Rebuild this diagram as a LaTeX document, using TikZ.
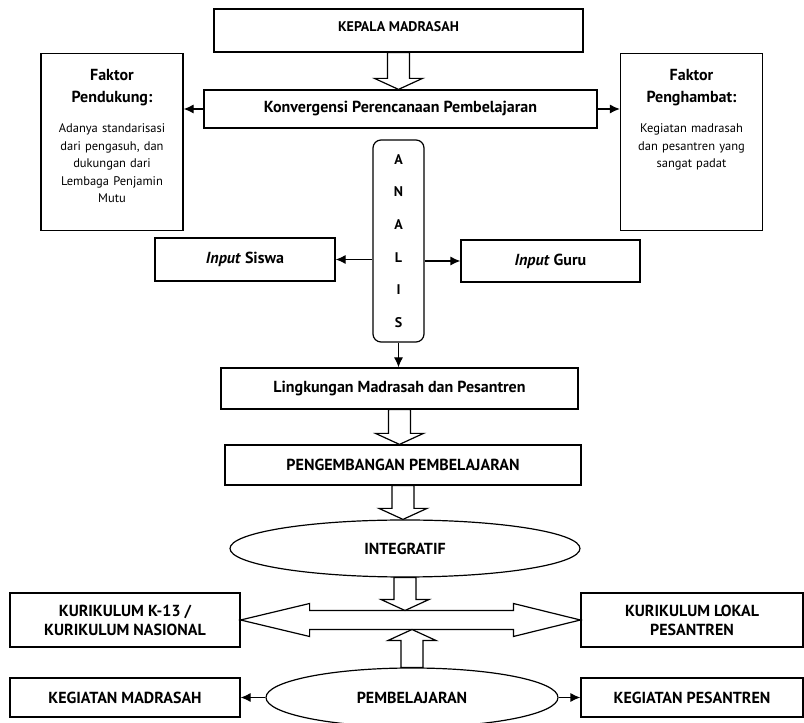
\documentclass[tikz,border=0pt]{standalone}
\usepackage{fontspec}
\setmainfont{PT Sans}
\usetikzlibrary{calc,shapes.geometric,arrows.meta}
\NewDocumentCommand{\DrawBlockArrow}{O{11} m m}{%
    \draw [blockarrow] let \p1=(#2), \p2=(#3) in
        ({\x1-11pt},\y1) -- ({\x1-11pt},{\y2+(#1pt)}) -- ({\x1-24pt},{\y2+(#1pt)})
        -- (\x1,\y2) -- ({\x1+24pt},{\y2+(#1pt)}) -- ({\x1+11pt},{\y2+(#1pt)})
        -- ({\x1+11pt},\y1) -- cycle;
}

\begin{document}
\begin{tikzpicture}[
    x=1pt, y=1pt,
    box/.style={draw, line width=1.2pt, inner sep=2pt, align=center,
        font=\fontsize{16}{19}\selectfont\bfseries},
    oval/.style={box, ellipse, inner sep=0pt},
    faktor/.style={draw, line width=1.2pt, anchor=north, align=center,
        font=\fontsize{12.5}{17.5}\selectfont,
        text width=130pt, inner sep=6pt, text height=21pt, text depth=144pt},
    conn/.style={line width=1.2pt, -{Latex[length=10pt,width=9pt]}},
    blockarrow/.style={draw, fill=white, line width=1.2pt, line join=miter}
    ]
    \useasboundingbox (0,0) rectangle (804,723);

    \node[box, minimum width=369pt, minimum height=43pt, text height=10pt, text depth=7pt,
        font=\fontsize{14}{17}\selectfont\bfseries] (kepala) at (398.5,692.5) {KEPALA MADRASAH};
    \node[box, minimum width=393pt, minimum height=38pt] (konv) at (400.5,614) {Konvergensi Perencanaan Pembelajaran};
    \node[faktor] (pend) at (112,670) {{\bfseries\fontsize{16}{17.5}\selectfont Faktor\\[4.5pt] Pendukung:}\\[12.5pt]
        Adanya standarisasi\\ dari pengasuh, dan\\ dukungan dari\\ Lembaga Penjamin\\ Mutu\par};
    \node[faktor] (pengh) at (691.5,670) {{\bfseries\fontsize{16}{17.5}\selectfont Faktor\\[4.5pt] Penghambat:}\\[12.5pt]
        Kegiatan madrasah\\ dan pesantren yang\\ sangat padat\par};
    \node[box, rounded corners=8pt, minimum width=51pt, minimum height=202pt,
        font=\fontsize{14}{32.6}\selectfont\bfseries] (analis) at (398.5,482) {A\\N\\A\\L\\I\\S};
    \node[box, minimum width=180pt, minimum height=43pt] (siswa) at (245,463.5) {\textit{Input} Siswa};
    \node[box, minimum width=179pt, minimum height=42pt] (guru) at (550.5,462) {\textit{Input} Guru};
    \node[box, minimum width=357pt, minimum height=41pt] (lingk) at (399.5,334.5) {Lingkungan Madrasah dan Pesantren};
    \node[box, minimum width=356pt, minimum height=40pt] (pengem) at (403,258) {PENGEMBANGAN PEMBELAJARAN};
    \node[oval, minimum width=350pt, minimum height=57pt] (integ) at (405,174.5) {INTEGRATIF};
    \node[box, minimum width=230pt, minimum height=54pt] (kl) at (125,103) {KURIKULUM K-13 /\\KURIKULUM NASIONAL};
    \node[box, minimum width=222pt, minimum height=54pt] (kp) at (692,103) {KURIKULUM LOKAL\\PESANTREN};
    \node[oval, minimum width=292pt, minimum height=59pt] (pemb) at (412,25.5) {PEMBELAJARAN};
    \node[box, minimum width=230pt, minimum height=39pt] (km) at (125,25.5) {KEGIATAN MADRASAH};
    \node[box, minimum width=222pt, minimum height=39pt] (kps) at (692,25.5) {KEGIATAN PESANTREN};

    \draw[conn] (konv.west) -- (konv.west -| pend.east);
    \draw[conn] (konv.east) -- (konv.east -| pengh.west);
    \draw[conn] (analis.west |- siswa.east) -- (siswa.east);
    \draw[conn] (analis.east |- guru.west) -- (guru.west);
    \draw[conn] (analis.south) -- (analis.south |- lingk.north);
    \draw[conn] (pemb.west) -- (pemb.west -| km.east);
    \draw[conn] (pemb.east) -- (pemb.east -| kps.west);

    % double arrow between the two curricula
    \draw[blockarrow] let \p1=(kl.east), \p2=(kp.west) in
        (\p1) -- ({\x1+69pt},{\y1+16.5pt}) -- ({\x1+69pt},{\y1+9.5pt}) -- ({\x2-67pt},{\y1+9.5pt})
        -- ({\x2-67pt},{\y1+16.5pt}) -- (\p2) -- ({\x2-67pt},{\y1-16.5pt}) -- ({\x2-67pt},{\y1-9.5pt})
        -- ({\x1+69pt},{\y1-9.5pt}) -- ({\x1+69pt},{\y1-16.5pt}) -- cycle;
    \coordinate (dbltop) at ($(kl.east)!0.5!(kp.west)+(0,9.5)$);
    \coordinate (dblbot) at ($(kl.east)!0.5!(kp.west)+(0,-9.5)$);

    \DrawBlockArrow{kepala.south}{konv.north}
    \DrawBlockArrow{lingk.south}{pengem.north}
    \DrawBlockArrow{pengem.south}{integ.north}
    \DrawBlockArrow{integ.south}{dbltop}
    \DrawBlockArrow[-11]{pemb.north}{dblbot}

\end{tikzpicture}
\end{document}
